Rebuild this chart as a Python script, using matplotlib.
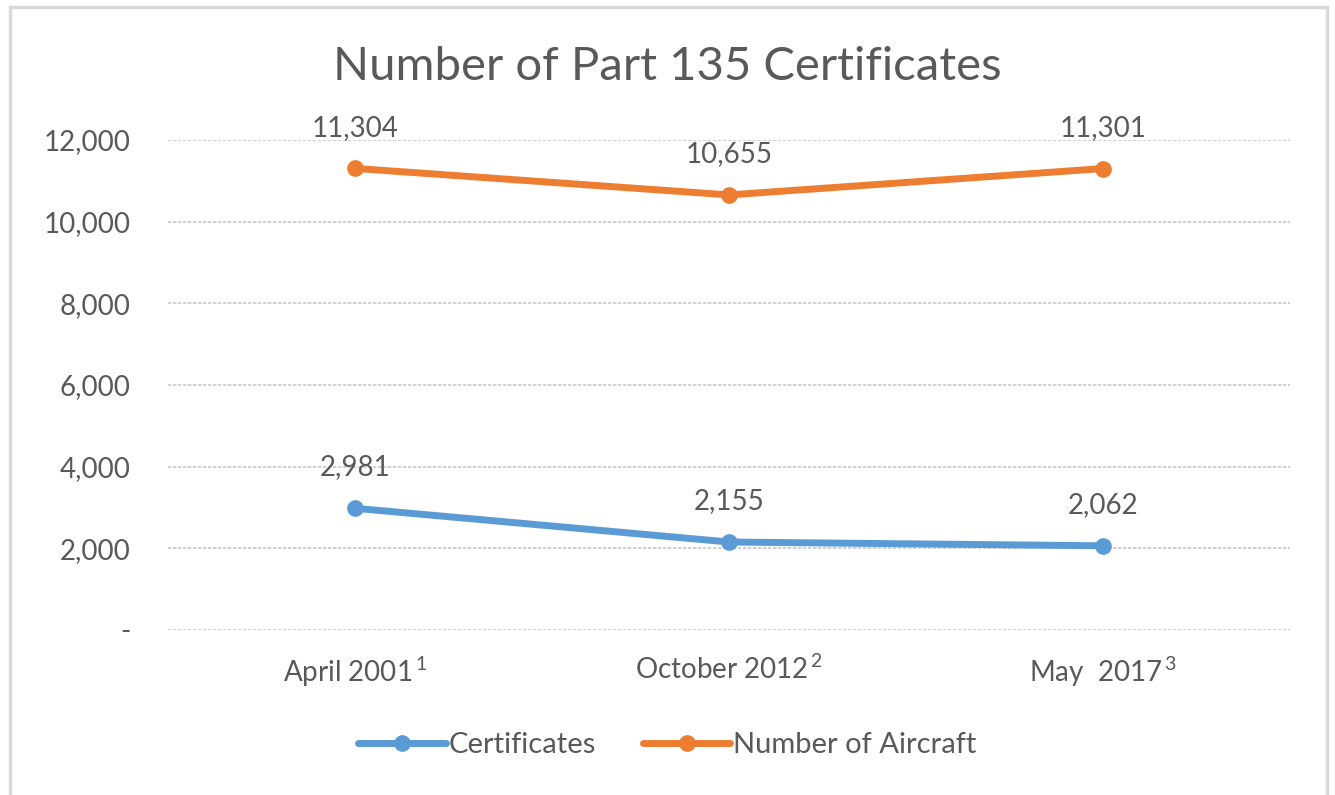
import matplotlib.pyplot as plt
from matplotlib.patches import Rectangle
from matplotlib.ticker import FuncFormatter

plt.rcParams['font.family'] = ['Lato', 'DejaVu Sans']
plt.rcParams['mathtext.fontset'] = 'custom'
plt.rcParams['mathtext.rm'] = 'Lato'
plt.rcParams['mathtext.it'] = 'Lato'

# data
periods = ['April 2001', 'October 2012', 'May  2017']
footnotes = ['1', '2', '3']
certificates = [2981, 2155, 2062]
aircraft = [11304, 10655, 11301]

BLUE = '#5B9BD5'
ORANGE = '#ED7D31'
TEXT = '#595959'

fig = plt.figure(figsize=(13.35, 7.95), dpi=100)
# thin outer frame like the Excel chart area
fig.patches.append(Rectangle((10 / 1335, -0.01), 1317 / 1335, 1 - 7 / 795 + 0.01,
                             transform=fig.transFigure, fill=False,
                             edgecolor='#d9d9d9', linewidth=2.5))

ax = fig.add_axes([168 / 1335, 1 - 630 / 795, 1122 / 1335, 490 / 795])
x = list(range(len(periods)))

ax.plot(x, certificates, color=BLUE, linewidth=5, marker='o', markersize=11,
        label='Certificates', solid_capstyle='round')
ax.plot(x, aircraft, color=ORANGE, linewidth=5, marker='o', markersize=11,
        label='Number of Aircraft', solid_capstyle='round')

for xi, v in zip(x, certificates):
    ax.annotate(f'{v:,}', (xi, v), xytext=(0, 20), textcoords='offset points',
                ha='center', va='bottom', fontsize=20, color=TEXT)
for xi, v in zip(x, aircraft):
    ax.annotate(f'{v:,}', (xi, v), xytext=(0, 20), textcoords='offset points',
                ha='center', va='bottom', fontsize=20, color=TEXT)

ax.set_xlim(-0.5, 2.5)
ax.set_ylim(0, 12000)
ax.set_yticks(range(0, 12001, 2000))
ax.yaxis.set_major_formatter(FuncFormatter(lambda v, p: '-' if v == 0 else f'{int(v):,}'))
ax.tick_params(axis='y', length=0, pad=27, labelsize=20, labelcolor=TEXT)
ax.set_xticks(x)
ax.set_xticklabels([f'{p}$^{{\\,{n}}}$' for p, n in zip(periods, footnotes)])
ax.tick_params(axis='x', length=0, pad=18, labelsize=20, labelcolor=TEXT)

ax.grid(True, axis='y', color='#c8c8c8', linestyle=(0, (2, 1)), linewidth=1.2)
ax.set_axisbelow(True)
for s in ax.spines.values():
    s.set_visible(False)

fig.text(0.5, 1 - 67 / 795, 'Number of Part 135 Certificates', ha='center', va='center',
         fontsize=34, color=TEXT)

leg = fig.legend(loc='center', bbox_to_anchor=(0.5, 1 - 745 / 795), ncol=2, frameon=False,
                 fontsize=21, handlelength=3.0, handletextpad=0.1, columnspacing=1.6)
for t in leg.get_texts():
    t.set_color(TEXT)

fig.savefig('out.png', dpi=100)
